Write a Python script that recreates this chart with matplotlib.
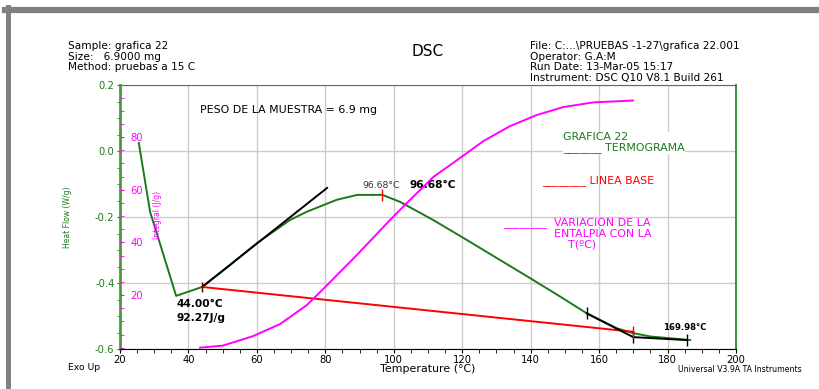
"""DSC thermogram (grafica 22) redrawn with matplotlib."""

import matplotlib
matplotlib.use("Agg")
import matplotlib.pyplot as plt
from matplotlib.lines import Line2D
from matplotlib.ticker import MultipleLocator

plt.rcParams["font.family"] = ["DejaVu Sans"]
plt.rcParams["axes.unicode_minus"] = False

# heat flow thermogram (W/g) vs temperature (C)
temp_hf = [25.5, 28.8, 31.1, 36.4, 44.0, 52.0, 59.9, 69.7, 74.6, 83.3, 89.3, 96.7,
           101.8, 111.5, 119.8, 131.0, 139.8, 148.6, 156.4, 165.1, 170.0, 174.9, 186.6]
heat_flow = [0.024, -0.185, -0.261, -0.439, -0.412, -0.347, -0.280, -0.209, -0.184,
             -0.148, -0.133, -0.133, -0.154, -0.209, -0.260, -0.330, -0.385, -0.441,
             -0.492, -0.537, -0.552, -0.562, -0.573]

# running integral (J/g)
temp_int = [43.4, 50.1, 58.9, 66.8, 74.6, 79.4, 89.2, 98.9, 104.7, 111.6, 119.4,
            126.2, 134.0, 141.8, 149.5, 158.3, 169.9]
integral = [0.0, 0.8, 4.4, 9.0, 16.2, 22.3, 35.2, 48.5, 56.1, 64.9, 72.1, 78.5,
            84.2, 88.4, 91.4, 93.2, 93.9]

# analysis constructions
tangent_t = [44.0, 80.5]
tangent_hf = [-0.412, -0.112]
base_t = [44.0, 169.98]
base_hf = [-0.412, -0.548]
end_t = [156.4, 169.98, 185.7]
end_hf = [-0.492, -0.564, -0.573]
peak_t, peak_hf = 96.68, -0.133

GREEN = "#1a7a1a"
MAGENTA = "#ff00ff"
RED = "#ff0000"
LEGEND_FS = 7.9

fig = plt.figure(figsize=(8.19, 3.89), dpi=100)
ax = fig.add_axes([120 / 819, 1 - 349 / 389, 616 / 819, 264 / 389])

ax.set_xlim(20, 200)
ax.set_ylim(-0.6, 0.2)
ax.xaxis.set_major_locator(MultipleLocator(20))
ax.xaxis.set_minor_locator(MultipleLocator(5))
ax.yaxis.set_major_locator(MultipleLocator(0.2))
ax.yaxis.set_minor_locator(MultipleLocator(0.05))
ax.yaxis.set_major_formatter(plt.FuncFormatter(lambda v, p: f"{v:.1f}"))
ax.grid(True, which="major", color="#cccccc", linewidth=1.0)
ax.tick_params(axis="x", which="both", direction="out", labelsize=7.2, color="black",
               length=3, pad=1)
ax.tick_params(axis="y", which="both", direction="out", labelsize=7.2, colors=GREEN,
               length=2.5, pad=1.5)
ax.spines["left"].set_color("#4a9a3a")
ax.spines["left"].set_linewidth(2)
ax.spines["right"].set_color("#2a8a2a")
ax.spines["right"].set_linewidth(1.3)
ax.spines["top"].set_color("#666666")
ax.spines["bottom"].set_color("black")

ax.plot(temp_hf, heat_flow, color=GREEN, linewidth=1.4, zorder=4)
ax.plot(tangent_t, tangent_hf, color="black", linewidth=1.4, zorder=5)
ax.plot(base_t, base_hf, color=RED, linewidth=1.4, zorder=5)
ax.plot(end_t, end_hf, color="black", linewidth=1.4, zorder=5)
ax.plot(end_t, end_hf, linestyle="none", marker="|", markersize=8, color="black", zorder=6)
ax.plot([44.0], [-0.412], linestyle="none", marker="|", markersize=7, color="#5a0000", zorder=6)
ax.plot([peak_t, base_t[1]], [peak_hf, base_hf[1]], linestyle="none", marker="|",
        markersize=8, color=RED, zorder=6)

# integral axis drawn on the left, inside the plot
ax2 = ax.twinx()
ax2.set_ylim(-0.5, 99.8)
ax2.yaxis.set_major_locator(MultipleLocator(20))
ax2.yaxis.set_minor_locator(MultipleLocator(5))
ax2.yaxis.set_ticks_position("left")
ax2.tick_params(axis="y", which="both", direction="in", colors=MAGENTA, labelsize=7.2,
                length=3, left=True, right=False, labelleft=True, labelright=False)
ax2.tick_params(axis="y", which="major", pad=-7.5)
for lab in ax2.get_yticklabels():
    lab.set_horizontalalignment("left")
ax2.yaxis.set_major_formatter(
    plt.FuncFormatter(lambda v, p: "" if v <= 0 or v >= 100 else f"{v:.0f}"))
for side in ("left", "right", "top", "bottom"):
    ax2.spines[side].set_visible(False)
ax2.plot(temp_int, integral, color=MAGENTA, linewidth=1.4, zorder=4)
ax2.text(31.1, 50.4, "Integral (J/g)", rotation=90, fontsize=5.5, color=MAGENTA,
         ha="center", va="center")

# annotations
ax.text(43.4, 0.124, "PESO DE LA MUESTRA = 6.9 mg", fontsize=7.9, ha="left", va="center")
ax.text(36.4, -0.4485, "44.00°C\n92.27J/g", fontsize=7.7, fontweight="bold",
        ha="left", va="top", linespacing=1.48)
ax.text(90.7, -0.106, "96.68°C", fontsize=6.7, color="#333333", ha="left", va="center")
ax.text(104.5, -0.103, "96.68°C", fontsize=7.7, fontweight="bold", ha="left", va="center")
ax.text(178.7, -0.536, "169.98°C", fontsize=6.1, fontweight="bold", ha="left", va="center")

# handwritten legend
ax.text(149.5, 0.0576, "GRAFICA 22\n_______ TERMOGRAMA", fontsize=LEGEND_FS, color=GREEN,
        ha="left", va="top", linespacing=1.0,
        bbox=dict(facecolor="white", edgecolor="none", pad=0.5))
ax.text(143.3, -0.091, "________ LINEA BASE", fontsize=LEGEND_FS, color=RED,
        ha="left", va="center")
ax.text(131.9, -0.227, "________", fontsize=LEGEND_FS, color=MAGENTA, ha="left",
        va="baseline")
ax.text(146.8, -0.2045, "VARIACION DE LA\nENTALPIA CON LA\n    T(ºC)", fontsize=LEGEND_FS,
        color=MAGENTA, ha="left", va="top", linespacing=1.08)

# axis titles
fig.text(428 / 819, 1 - 369 / 389, "Temperature (°C)", fontsize=7.9, ha="center", va="center")
fig.text(67 / 819, 1 - 217 / 389, "Heat Flow (W/g)", fontsize=5.5, color=GREEN,
         rotation=90, ha="center", va="center")

# header block
fig.text(68 / 819, 1 - 41 / 389, "Sample: grafica 22\nSize:   6.9000 mg\nMethod: pruebas a 15 C",
         fontsize=7.6, va="top", linespacing=1.07)
fig.text(428 / 819, 1 - 52 / 389, "DSC", fontsize=11, ha="center", va="center")
fig.text(530 / 819, 1 - 41 / 389,
         "File: C:...\\PRUEBAS -1-27\\grafica 22.001\nOperator: G.A:M\n"
         "Run Date: 13-Mar-05 15:17\nInstrument: DSC Q10 V8.1 Build 261",
         fontsize=7.6, va="top", linespacing=1.09)
fig.text(68 / 819, 1 - 367 / 389, "Exo Up", fontsize=6.7, va="center")
fig.text(802 / 819, 1 - 370 / 389, "Universal V3.9A TA Instruments", fontsize=5.6,
         ha="right", va="center")

# window frame
fig.add_artist(Line2D([7.5 / 819, 7.5 / 819], [0, 1 - 7 / 389], color="#808080",
                      linewidth=3.6, transform=fig.transFigure))
fig.add_artist(Line2D([5 / 819, 1], [1 - 10 / 389, 1 - 10 / 389], color="#808080",
                      linewidth=4.5, transform=fig.transFigure))

fig.savefig("out.png", dpi=100)
